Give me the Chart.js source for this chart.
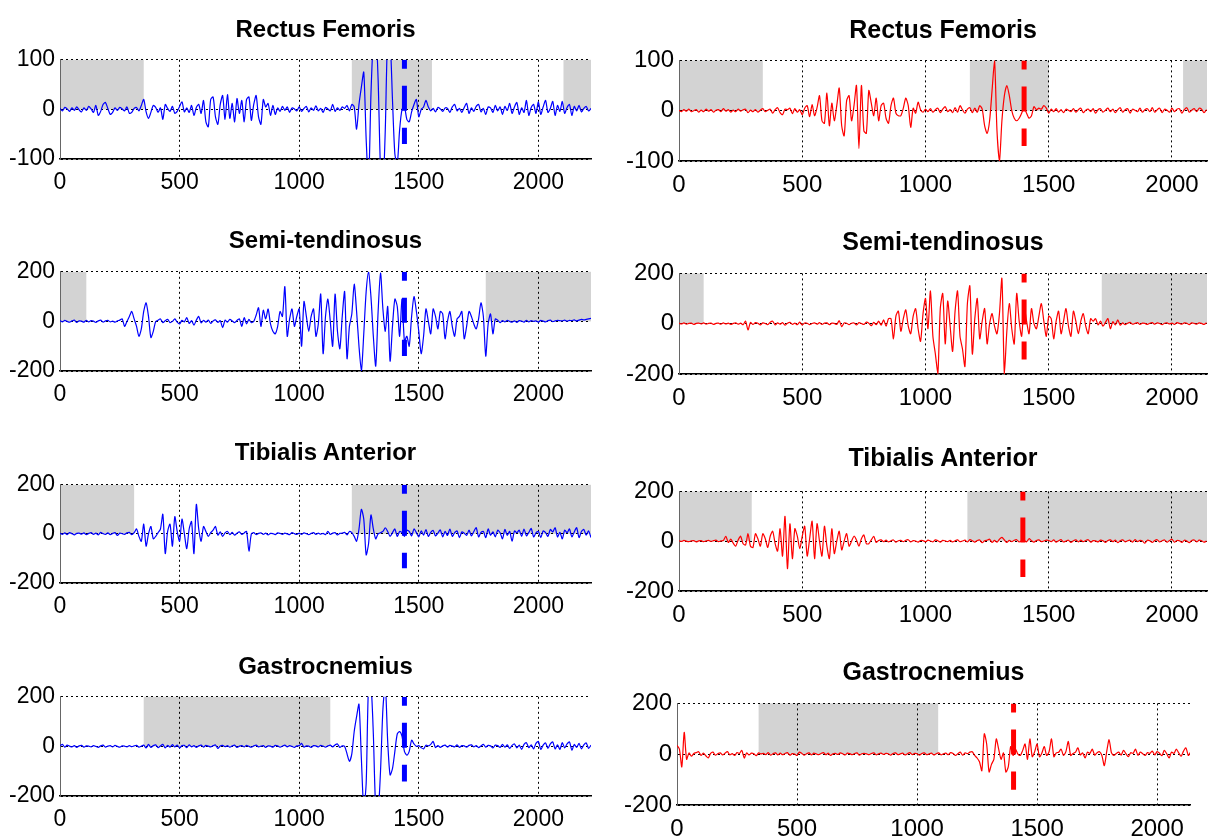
<!DOCTYPE html>
<html><head><meta charset="utf-8">
<script src="https://cdn.jsdelivr.net/npm/chart.js@4/dist/chart.umd.min.js"></script>
<style>
html,body{margin:0;padding:0;background:#fff;width:1212px;height:838px;overflow:hidden;position:relative;}
.panel{position:absolute;}
.title{position:absolute;height:30px;line-height:30px;font-family:"Liberation Sans",Arial,Helvetica,sans-serif;font-weight:bold;text-align:center;color:#000;white-space:nowrap;}
</style></head><body>
<script>
// ---------- DATA ----------
const STEP = 10; // sample spacing of the signal arrays
const muscleTitles = ["Rectus Femoris", "Semi-tendinosus", "Tibialis Anterior", "Gastrocnemius"];
const xTickValues = [0, 500, 1000, 1500, 2000];
const yTicksRF = [-100, 0, 100];
const yTicksOther = [-200, 0, 200];

const rfLeft = [
 2,-3,4,1,-4,3,-2,5,-1,-5,
 3,-2,6,1,-6,8,-12,-4,10,14,
 2,-10,-6,3,-2,4,1,-3,5,-8,
 -6,2,4,-3,8,20,-5,-18,-6,8,
 4,-6,3,-20,10,2,-4,6,-8,-4,
 6,15,-5,3,-6,8,-12,4,10,-8,
 18,-25,-35,20,25,-15,-30,10,28,-20,
 30,-18,12,-25,22,-8,18,-25,20,25,
 -22,10,28,-15,-30,20,5,12,-12,8,
 -10,3,-4,6,-2,5,-6,3,1,-3,
 5,-4,2,6,-5,3,-2,7,-3,2,
 -6,4,1,-3,10,-4,3,-2,5,2,
 8,-3,10,5,-40,10,45,75,-60,-150,
 30,140,160,60,-120,-160,-40,150,140,20,
 -90,-110,-40,0,5,-20,-25,-5,10,20,
 -15,0,5,18,5,-3,2,-5,4,1,
 -4,3,2,-6,5,10,-3,2,-6,4,
 12,-8,3,-4,6,10,-5,2,-10,5,
 3,-6,8,-3,5,-10,6,-2,12,-8,
 5,14,-10,3,-6,18,-12,4,10,-8,
 15,-10,5,18,-6,2,16,-12,8,-4,
 16,-8,4,10,-12,6,-3,8,-5,2,
 6,-3,2];
const rfRight = [
 1,-2,2,-1,3,-2,0,2,-3,1,
 -2,3,-1,2,-3,1,2,-2,4,-1,
 2,-3,1,-2,3,-1,2,3,-4,1,
 -2,2,-3,1,4,-2,1,3,-5,2,
 6,-4,-8,3,2,5,-6,4,-3,2,
 -8,5,10,-12,12,-10,6,30,-20,-25,
 35,-30,15,-20,10,45,-30,-50,20,30,
 -20,10,50,-75,50,-40,-45,40,15,-10,
 25,-20,10,15,-15,-25,10,25,-5,-10,
 -10,5,25,10,-33,5,-5,17,2,-3,
 3,-2,4,-3,2,5,-4,3,8,-2,
 2,-4,6,-3,10,2,-5,3,6,-4,
 5,-3,10,3,-30,-45,-20,40,100,-40,
 -100,-20,30,50,30,0,-15,-20,-15,-5,
 5,-5,-15,-10,8,2,5,3,10,5,
 -5,3,-2,4,-3,2,-4,3,1,-2,
 4,-3,2,5,-4,1,3,-2,4,-5,
 2,4,-3,1,5,-2,3,-4,2,6,
 -3,2,4,-5,3,1,-2,5,-3,2,
 4,-2,6,-3,2,5,-4,3,1,-3,
 5,-2,3,4,-5,2,6,-3,1,4,
 -2,5,3,-4,2];
const stLeft = [
 3,-2,4,0,-3,2,5,-4,2,1,
 -3,4,-2,3,1,-4,2,5,-3,2,
 4,-2,1,-3,2,5,10,-20,0,20,
 40,10,-20,-60,-30,40,75,20,-65,-40,
 0,5,10,-5,3,8,-5,0,10,-3,
 -10,4,-2,15,-8,3,-15,5,20,-6,
 4,-3,5,-8,2,6,-4,3,-25,5,
 -3,8,2,-5,4,10,-20,15,-10,8,
 -5,0,25,55,-20,45,10,50,-10,-40,
 -50,-20,40,20,140,-60,10,50,-20,20,
 50,-100,80,20,-40,20,50,-60,-10,110,
 -130,20,90,0,-100,110,-40,-110,20,120,
 -150,-20,30,150,40,-100,-200,-50,120,200,
 100,-60,-180,40,195,50,-40,60,-160,-20,
 90,60,-60,90,-80,-60,-100,20,100,40,
 -40,-130,-60,50,0,-50,50,20,-30,40,
 30,-70,0,40,-20,-60,10,20,40,-70,
 -20,40,20,-10,-30,10,75,20,-140,-10,
 30,-50,10,5,-5,3,-2,4,0,-3,
 2,-4,3,1,-3,4,-2,3,0,2,
 -3,4,1,-2,3,5,-1,2,4,3,
 2,5,1,4,3,6,2,5,8,6,
 8,10,12];
const stRight = [
 2,-1,3,-2,1,2,-3,1,2,-1,
 3,-2,1,2,-3,1,2,-2,3,-1,
 2,-3,1,3,-2,2,-4,10,-25,5,
 -3,4,2,-5,3,1,-4,6,10,-5,
 3,-2,4,-6,2,5,-3,2,-4,6,
 -5,3,2,-4,1,3,-2,4,-3,2,
 3,-4,2,1,-3,12,-12,3,2,-4,
 2,3,-5,4,1,-3,6,2,-8,5,
 -4,10,-6,15,-10,20,20,-60,30,50,
 -30,20,55,-10,-40,30,60,-20,-70,40,
 100,-20,130,-50,-120,-200,60,120,-80,90,
 -10,-110,50,130,-50,-100,-170,80,150,-120,
 20,100,-60,10,60,-80,0,40,-10,-40,
 40,180,-200,-30,80,-20,-80,120,10,-50,
 70,10,-40,60,0,-20,30,80,10,-50,
 30,20,-60,10,50,-40,10,60,-10,-50,
 50,10,-40,10,40,-10,-40,20,10,20,
 -5,10,-10,5,20,-20,8,-5,15,-6,
 3,-4,2,5,-2,1,4,-3,2,1,
 -3,2,4,-2,3,1,-4,2,3,-1,
 2,-3,4,1,-2,3,2,-4,3,1,
 -2,3,1,-3,4];
const taLeft = [
 3,-2,4,-3,5,1,-4,2,3,-1,
 4,-3,2,5,-2,3,-4,6,1,-2,
 4,-3,2,5,-6,3,1,-2,4,6,
 -3,5,20,-10,-30,40,-50,0,30,-20,
 -10,5,20,80,-80,10,40,-50,70,10,
 -30,60,0,-60,20,50,-80,120,20,-30,
 30,10,-10,5,15,30,-5,8,-10,4,
 10,-3,6,-5,3,8,-2,4,10,-70,
 0,5,-3,2,4,-2,3,-4,2,1,
 -3,4,2,-2,3,0,-3,5,1,-2,
 3,-2,4,1,-3,2,5,-2,3,-1,
 2,-3,10,-2,3,5,-4,2,3,6,
 -4,10,5,-10,-30,20,100,60,-85,-40,
 77,20,-20,0,5,10,25,10,-10,5,
 20,-10,10,5,-10,15,10,-8,20,5,
 -12,12,-5,18,-10,6,14,-8,3,16,
 -12,10,-6,20,-10,5,12,-15,8,3,
 -6,15,-8,10,25,-12,6,10,-15,20,
 -5,8,-12,15,5,-20,18,-6,10,-30,
 12,5,15,-10,20,-8,6,22,-12,4,
 10,-15,12,5,-10,18,8,25,-12,6,
 -20,15,5,20,-12,8,25,-15,10,18,
 -5,12,-15];
const taRight = [
 2,-1,3,0,-2,1,2,-3,1,2,
 -2,1,3,-1,2,4,-2,1,3,20,
 -5,8,-8,-20,5,20,-10,-15,30,-20,
 -25,30,10,-20,30,10,-25,20,40,-10,
 -40,50,-60,100,-110,70,-70,50,20,-30,
 20,60,-60,10,80,-70,70,0,-60,60,
 -20,-70,50,-50,0,40,-35,0,30,-20,
 0,20,5,-20,10,25,-10,-10,5,20,
 -5,3,5,-2,4,-3,2,5,-4,2,
 3,-2,4,6,-3,2,1,-4,3,2,
 -2,4,1,-3,5,2,-4,3,1,-2,
 3,-3,2,5,-2,1,4,-3,6,2,
 -4,3,5,-6,2,4,8,-5,3,-4,
 8,15,5,-5,3,-2,4,6,-3,2,
 4,-3,10,2,-4,3,5,-2,1,4,
 3,-2,5,-4,2,6,-3,1,4,-5,
 2,5,-3,4,-2,3,6,-4,2,1,
 -3,4,2,-5,3,5,-2,4,-6,2,
 5,-3,2,4,-4,6,-2,3,1,-8,
 4,2,-5,3,6,-3,2,5,-4,3,
 8,-4,3,2,-5,4,1,-6,3,5,
 -3,4,2,-4,1];
const gaLeft = [
 2,8,-3,5,1,-2,3,-4,2,4,
 -3,2,1,-2,3,0,-4,2,5,-3,
 1,3,-2,4,0,-3,2,1,-2,3,
 -1,2,4,-3,1,5,-6,8,-4,3,
 6,-5,2,8,-6,4,-3,7,-2,5,
 -6,3,4,-5,6,-2,3,-4,2,5,
 -3,4,1,-2,3,6,-8,2,4,-1,
 3,-3,2,5,-4,1,3,-2,4,0,
 -3,2,5,-2,1,3,-4,2,1,-3,
 4,2,-3,1,5,-2,3,0,-4,2,
 3,12,-3,2,1,-4,3,2,-2,4,
 1,-3,2,5,-2,6,10,-4,2,0,
 -30,-60,-30,60,120,170,-50,-250,-150,250,
 250,50,-250,-260,-100,150,250,20,-115,-90,
 -20,50,60,40,-20,-35,-20,25,10,0,
 3,-5,-10,5,2,8,20,-5,3,-4,
 2,5,-3,4,1,-2,6,-4,3,2,
 -3,4,6,-2,3,-5,2,8,-3,4,
 2,-6,5,3,-4,8,-3,6,-8,4,
 10,-6,5,-12,8,15,-5,6,-10,12,
 20,-12,5,14,-8,10,18,-10,6,-12,
 15,-6,10,18,-15,8,-4,12,-10,6,
 14,-8,5];
const gaRight = [
 35,20,-50,86,-20,5,-8,3,6,10,
 -5,4,-6,-15,3,8,-4,2,5,-3,
 4,10,-3,2,-5,6,3,15,-15,5,
 -3,4,2,-6,5,1,3,-2,6,-4,
 2,5,-3,4,-2,3,6,-4,2,1,
 -5,8,3,-4,2,5,-3,4,1,-2,
 3,6,-2,4,-5,2,3,-1,5,2,
 -3,4,2,-2,3,5,-4,2,3,1,
 -2,3,5,-3,2,4,-1,3,2,-4,
 3,5,-2,1,4,-3,2,6,-2,3,
 2,-4,3,5,-2,1,4,-3,2,5,
 -3,2,4,-2,6,3,-5,2,8,-4,
 5,2,8,10,-5,-15,-30,-65,80,40,
 -70,-40,-20,60,20,-20,5,-70,-50,30,
 -5,20,0,-5,15,40,-20,60,-10,10,
 40,-10,5,30,-5,10,60,-10,5,8,
 20,-5,10,50,-5,3,8,25,-3,5,
 -15,8,3,20,-4,6,10,-5,-45,10,
 57,5,-5,3,8,-4,15,2,-10,6,
 3,20,-4,8,2,-5,6,3,12,-3,
 10,4,-6,15,2,-15,8,3,20,5,
 -8,12,25,-5,10];

// grey shaded intervals (x start, x end)
const rfLeftShade = [[0,350],[1220,1555],[2105,2220]];
const rfRightShade = [[0,340],[1180,1500],[2045,2142]];
const stLeftShade = [[0,110],[1780,2220]];
const stRightShade = [[0,100],[1715,2142]];
const taLeftShade = [[0,310],[1220,2220]];
const taRightShade = [[0,295],[1170,2142]];
const gaLeftShade = [[350,1130]];
const gaRightShade = [[340,1088]];

// dashed event markers: [x, lowest y]
const rfLeftMark = [1440, -70];
const rfRightMark = [1400, -70];
const stLeftMark = [1440, -140];
const stRightMark = [1400, -142];
const taLeftMark = [1440, -140];
const taRightMark = [1395, -144];
const gaLeftMark = [1440, -142];
const gaRightMark = [1402, -140];

// ---------- LAYOUT / STYLE ----------
const FONT = '"Liberation Sans", Arial, Helvetica, sans-serif';
const BLUE = '#0000ff', RED = '#ff0000', SHADE = '#d3d3d3';
const PAD_L = 70, PAD_T = 15, PAD_R = 15, PAD_B = 40;
const LEFT_STYLE = {tick: 23, title: 24};
const RIGHT_STYLE = {tick: 24, title: 25};

const panels = [
 {title:0, ys:rfLeft, color:BLUE, yt:yTicksRF, xMax:2220, shade:rfLeftShade, mark:rfLeftMark, box:[60,56,591,159], ty:29, st:LEFT_STYLE},
 {title:0, ys:rfRight, color:RED, yt:yTicksRF, xMax:2142, shade:rfRightShade, mark:rfRightMark, box:[679,56,1207,161], ty:29, st:RIGHT_STYLE},
 {title:1, ys:stLeft, color:BLUE, yt:yTicksOther, xMax:2220, shade:stLeftShade, mark:stLeftMark, box:[60,268,591,371], ty:240, st:LEFT_STYLE},
 {title:1, ys:stRight, color:RED, yt:yTicksOther, xMax:2142, shade:stRightShade, mark:stRightMark, box:[679,269,1207,374], ty:241, st:RIGHT_STYLE},
 {title:2, ys:taLeft, color:BLUE, yt:yTicksOther, xMax:2220, shade:taLeftShade, mark:taLeftMark, box:[60,481,591,583], ty:452, st:LEFT_STYLE},
 {title:2, ys:taRight, color:RED, yt:yTicksOther, xMax:2142, shade:taRightShade, mark:taRightMark, box:[679,487,1207,591], ty:457, st:RIGHT_STYLE},
 {title:3, ys:gaLeft, color:BLUE, yt:yTicksOther, xMax:2220, shade:gaLeftShade, mark:gaLeftMark, box:[60,693,591,796], ty:666, st:LEFT_STYLE},
 {title:3, ys:gaRight, color:RED, yt:yTicksOther, xMax:2137, shade:gaRightShade, mark:gaRightMark, box:[677,699,1190,805], ty:671, st:RIGHT_STYLE}
];

const shadePlugin = {
  id: 'shade',
  beforeDraw(chart, args, opts) {
    const {ctx, scales} = chart;
    const x = scales.x, y = scales.y;
    ctx.save();
    ctx.fillStyle = opts.color;
    for (const [a, b] of opts.ranges) {
      const x0 = x.getPixelForValue(Math.max(a, x.min));
      const x1 = x.getPixelForValue(Math.min(b, x.max));
      const y0 = y.getPixelForValue(y.max);
      const y1 = y.getPixelForValue(0);
      ctx.fillRect(x0, y0, x1 - x0, y1 - y0);
    }
    ctx.restore();
  }
};

panels.forEach((p) => {
  const [L, T, R, B] = p.box;
  const w = (R - L) + PAD_L + PAD_R;
  const h = (B - T) + PAD_T + PAD_B;
  const div = document.createElement('div');
  div.className = 'panel';
  div.style.left = (L - PAD_L) + 'px';
  div.style.top = (T - PAD_T) + 'px';
  div.style.width = w + 'px';
  div.style.height = h + 'px';
  const cv = document.createElement('canvas');
  cv.width = w; cv.height = h;
  cv.style.width = w + 'px'; cv.style.height = h + 'px';
  div.appendChild(cv);
  document.body.appendChild(div);

  const t = document.createElement('div');
  t.className = 'title';
  t.textContent = muscleTitles[p.title];
  t.style.fontSize = p.st.title + 'px';
  t.style.left = L + 'px';
  t.style.width = (R - L) + 'px';
  t.style.top = (p.ty - 15) + 'px';
  document.body.appendChild(t);

  const yMax = p.yt[p.yt.length - 1];
  const signal = p.ys.map((v, i) => ({x: i * STEP, y: v}));
  const marker = [{x: p.mark[0], y: yMax}, {x: p.mark[0], y: p.mark[1]}];

  new Chart(cv, {
    type: 'line',
    data: {
      datasets: [
        {data: marker, borderColor: p.color, borderWidth: 5, borderDash: [25, 17], borderDashOffset: 16,
         borderCapStyle: 'butt', pointRadius: 0, fill: false, order: 0},
        {data: signal, borderColor: p.color, borderWidth: 1.2, pointRadius: 0, tension: 0.25, fill: false, order: 1}
      ]
    },
    options: {
      responsive: false, animation: false, devicePixelRatio: 1,
      layout: {padding: {left: 0, top: PAD_T, right: PAD_R, bottom: 0}},
      plugins: {legend: {display: false}, tooltip: {enabled: false}, title: {display: false},
                shade: {ranges: p.shade, color: SHADE}},
      scales: {
        x: {
          type: 'linear', min: 0, max: p.xMax,
          afterBuildTicks: s => { s.ticks = xTickValues.map(v => ({value: v})); },
          afterFit: s => { s.height = PAD_B; },
          grid: {color: '#000', lineWidth: 1, drawTicks: false},
          border: {display: true, color: '#000', width: 1.5, dash: [2, 3]},
          ticks: {color: '#000', font: {family: FONT, size: p.st.tick}, padding: 10, maxRotation: 0, autoSkip: false,
                  callback: v => String(v)}
        },
        y: {
          type: 'linear', min: -yMax, max: yMax,
          afterBuildTicks: s => { s.ticks = p.yt.map(v => ({value: v})); },
          afterFit: s => { s.width = PAD_L; },
          grid: {color: '#000', lineWidth: 1, drawTicks: false},
          border: {display: true, color: '#666', width: 1, dash: [2, 3]},
          ticks: {color: '#000', font: {family: FONT, size: p.st.tick}, padding: 5, callback: v => String(v)}
        }
      }
    },
    plugins: [shadePlugin]
  });
});
</script>
</body></html>
